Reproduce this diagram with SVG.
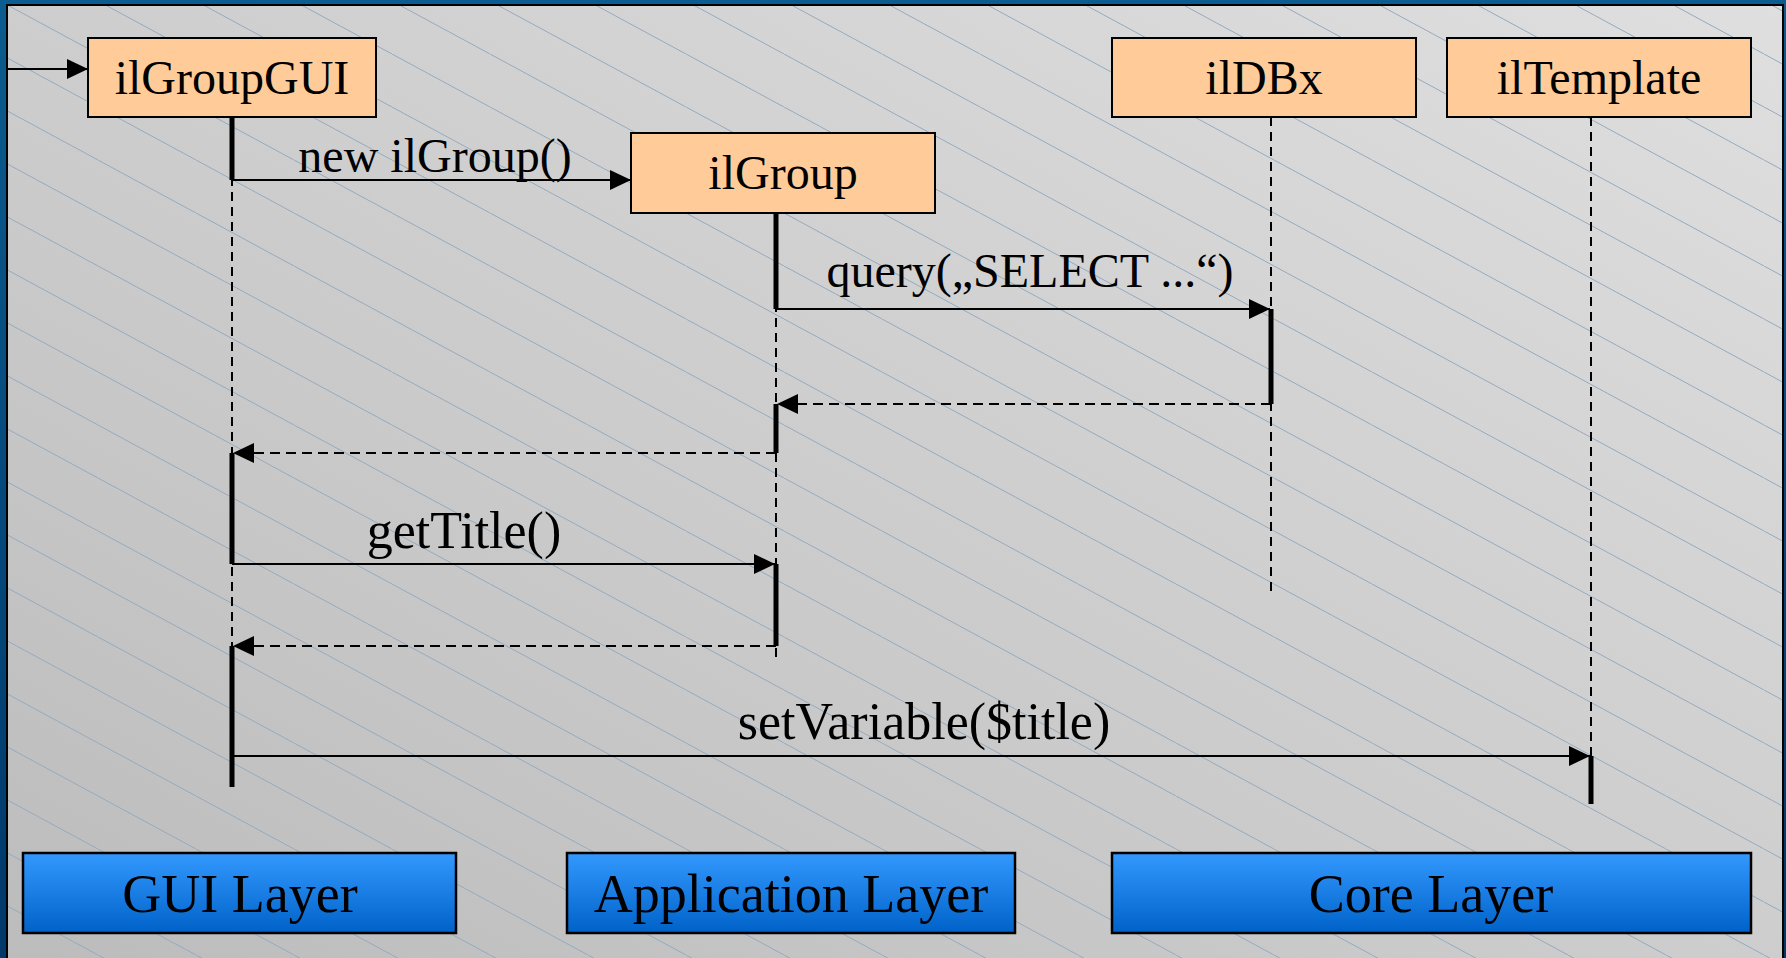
<svg xmlns="http://www.w3.org/2000/svg" width="1786" height="958" viewBox="0 0 1786 958">
<defs>
<linearGradient id="frame" x1="0" y1="0" x2="0" y2="1">
<stop offset="0" stop-color="#0b5c90"/>
<stop offset="1" stop-color="#00386a"/>
</linearGradient>
<linearGradient id="panel" x1="1" y1="0" x2="0" y2="1">
<stop offset="0" stop-color="#dfdfdf"/>
<stop offset="1" stop-color="#bcbcbc"/>
</linearGradient>
<linearGradient id="layer" x1="0" y1="0" x2="0" y2="1">
<stop offset="0" stop-color="#3399ff"/>
<stop offset="1" stop-color="#0062c8"/>
</linearGradient>
<pattern id="hatch" patternUnits="userSpaceOnUse" width="98" height="53" x="0" y="1">
<line x1="0" y1="0" x2="98" y2="53" stroke="#93aabf" stroke-width="1"/>
<line x1="-98" y1="-53" x2="0" y2="0" stroke="#93aabf" stroke-width="1"/>
<line x1="98" y1="53" x2="196" y2="106" stroke="#93aabf" stroke-width="1"/>
</pattern>
<marker id="arr" markerUnits="userSpaceOnUse" markerWidth="22" markerHeight="22" viewBox="0 0 22 22" refX="21" refY="11" orient="auto">
<path d="M0,1 L21,11 L0,21 Z" fill="#000"/>
</marker>
<style>
.obj{fill:#ffcc99;stroke:#000;stroke-width:2}
.lay{fill:url(#layer);stroke:#000;stroke-width:2.5}
.t{font-family:"Liberation Serif","Times New Roman",serif;fill:#000;text-anchor:middle}
.n{font-size:48px}
.l{font-size:54px}
.life{stroke:#000;stroke-width:2;stroke-dasharray:9,6;fill:none}
.act{stroke:#000;stroke-width:5;fill:none}
.msg{stroke:#000;stroke-width:2;fill:none;marker-end:url(#arr)}
.ret{stroke:#000;stroke-width:2;stroke-dasharray:10,6;fill:none;marker-end:url(#arr)}
</style>
</defs>
<rect x="0" y="0" width="1786" height="958" fill="url(#frame)"/>
<rect x="7" y="5" width="1776" height="960" fill="url(#panel)" stroke="#000" stroke-width="2"/>
<rect x="8" y="6" width="1774" height="952" fill="url(#hatch)"/>

<g id="lifelines">
<line class="life" x1="232" y1="117" x2="232" y2="786"/>
<line class="life" x1="776" y1="213" x2="776" y2="661"/>
<line class="life" x1="1271" y1="117" x2="1271" y2="595"/>
<line class="life" x1="1591" y1="117" x2="1591" y2="804"/>
</g>
<g id="activations">
<line class="act" x1="232" y1="117" x2="232" y2="180"/>
<line class="act" x1="232" y1="453" x2="232" y2="564"/>
<line class="act" x1="232" y1="646" x2="232" y2="787"/>
<line class="act" x1="776" y1="213" x2="776" y2="309"/>
<line class="act" x1="776" y1="404" x2="776" y2="453"/>
<line class="act" x1="776" y1="564" x2="776" y2="646"/>
<line class="act" x1="1271" y1="309" x2="1271" y2="404"/>
<line class="act" x1="1591" y1="756" x2="1591" y2="804"/>
</g>

<g id="connectors">
<line class="msg" x1="8" y1="69" x2="88" y2="69"/>
<line class="msg" x1="232" y1="180" x2="631" y2="180"/>
<line class="msg" x1="776" y1="309" x2="1270" y2="309"/>
<line class="ret" x1="1271" y1="404" x2="777" y2="404"/>
<line class="ret" x1="776" y1="453" x2="233" y2="453"/>
<line class="msg" x1="232" y1="564" x2="775" y2="564"/>
<line class="ret" x1="776" y1="646" x2="233" y2="646"/>
<line class="msg" x1="232" y1="756" x2="1590" y2="756"/>
<text class="t n" x="435" y="172">new ilGroup()</text>
<text class="t n" x="1030" y="287">query(„SELECT ...“)</text>
<text class="t" style="font-size:52px" x="464" y="548">getTitle()</text>
<text class="t" style="font-size:52px" x="924" y="739">setVariable($title)</text>
</g>

<g id="ilGroupGUI">
<rect class="obj" x="88" y="38" width="288" height="79"/>
<text class="t n" x="232" y="94">ilGroupGUI</text>
</g>
<g id="ilGroup">
<rect class="obj" x="631" y="133" width="304" height="80"/>
<text class="t n" x="783" y="189">ilGroup</text>
</g>
<g id="ilDBx">
<rect class="obj" x="1112" y="38" width="304" height="79"/>
<text class="t n" x="1264" y="94">ilDBx</text>
</g>
<g id="ilTemplate">
<rect class="obj" x="1447" y="38" width="304" height="79"/>
<text class="t n" x="1599" y="94">ilTemplate</text>
</g>

<g id="GUILayer">
<rect class="lay" x="23" y="853" width="433" height="80"/>
<text class="t l" x="240" y="912">GUI Layer</text>
</g>
<g id="ApplicationLayer">
<rect class="lay" x="567" y="853" width="448" height="80"/>
<text class="t l" x="791" y="912">Application Layer</text>
</g>
<g id="CoreLayer">
<rect class="lay" x="1112" y="853" width="639" height="80"/>
<text class="t l" x="1431" y="912">Core Layer</text>
</g>
</svg>
